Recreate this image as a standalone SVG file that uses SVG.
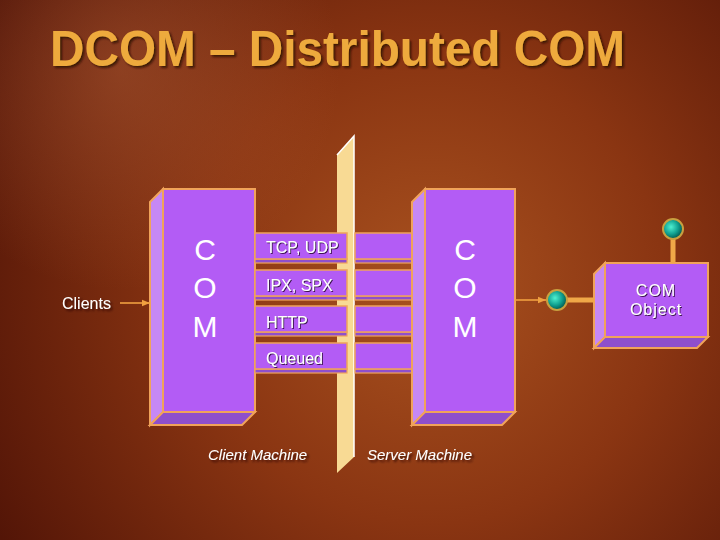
<svg xmlns="http://www.w3.org/2000/svg" width="720" height="540" viewBox="0 0 720 540">
<defs>
<radialGradient id="bg" cx="430" cy="290" r="520" gradientUnits="userSpaceOnUse">
<stop offset="0" stop-color="#a9521f"/>
<stop offset="0.45" stop-color="#8a3512"/>
<stop offset="1" stop-color="#4e1206"/>
</radialGradient>
<radialGradient id="glow" cx="120" cy="70" r="220" gradientUnits="userSpaceOnUse">
<stop offset="0" stop-color="#c06a40" stop-opacity="0.4"/>
<stop offset="1" stop-color="#c06a40" stop-opacity="0"/>
</radialGradient>
<radialGradient id="ball" cx="0.4" cy="0.4" r="0.6">
<stop offset="0" stop-color="#4ff0d0"/>
<stop offset="0.6" stop-color="#10a090"/>
<stop offset="1" stop-color="#035a50"/>
</radialGradient>
<filter id="sh" x="-10%" y="-20%" width="130%" height="150%">
<feDropShadow dx="2" dy="2" stdDeviation="1" flood-color="#2a0800" flood-opacity="0.8"/>
</filter>
<filter id="tsh" x="-10%" y="-30%" width="130%" height="160%">
<feDropShadow dx="1" dy="1" stdDeviation="0.6" flood-color="#301040" flood-opacity="0.9"/>
</filter>
<marker id="arr" viewBox="0 0 10 10" refX="10" refY="5" markerWidth="9" markerHeight="8" orient="auto" markerUnits="userSpaceOnUse">
<path d="M0,1 L10,5 L0,9 z" fill="#f0a040"/>
</marker>
<style>
.front{fill:#b35cf5;stroke:#f0a35a;stroke-width:2}
.side{fill:#c688f5;stroke:#f0a35a;stroke-width:2}
.bottom{fill:#8e4fcc;stroke:#f0a35a;stroke-width:2}
.bar{fill:#b35cf5;stroke:#f0a35a;stroke-width:1.5}
.barb{fill:#8e4fcc;stroke:#f0a35a;stroke-width:1.2}
.com{font-family:"Liberation Sans",Arial,sans-serif;font-size:30px;fill:#ffffff;text-anchor:middle}
.lbl{font-family:"Liberation Sans",Arial,sans-serif;font-size:16px;fill:#ffffff}
.mach{font-family:"Liberation Sans",Arial,sans-serif;font-size:15px;font-style:italic;fill:#ffffff}
.thin{stroke:#f0a040;stroke-width:1.6;fill:none}
.thick{stroke:#f0a848;stroke-width:5;fill:none}
.dot{fill:url(#ball);stroke:#c8a040;stroke-width:2}
</style>
</defs>
<rect width="720" height="540" fill="url(#bg)"/>
<rect width="720" height="540" fill="url(#glow)"/>
<text x="50" y="66" font-family="Liberation Sans,Arial,sans-serif" font-weight="bold" font-size="50" fill="#eeaa3c" textLength="575" lengthAdjust="spacingAndGlyphs" filter="url(#sh)">DCOM – Distributed COM</text>

<g id="divider">
<polygon points="337,155 354,136 354,457 337,473" fill="#f8da94"/>
<polyline points="337,155 354,136 354,457" fill="none" stroke="#ffffff" stroke-width="1.5"/>
</g>

<g id="client-com">
<polygon class="side" points="150,202 163,189 163,412 150,425"/>
<polygon class="bottom" points="150,425 163,412 255,412 242,425"/>
<rect class="front" x="163" y="189" width="92" height="223"/>
<text class="com" x="205" y="260">C</text>
<text class="com" x="205" y="298">O</text>
<text class="com" x="205" y="337">M</text>
</g>

<g id="protocols">
<rect class="barb" x="255" y="259" width="92" height="4"/>
<rect class="bar" x="255" y="233" width="92" height="26"/>
<rect class="barb" x="355" y="259" width="57" height="4"/>
<rect class="bar" x="355" y="233" width="57" height="26"/>
<rect class="barb" x="255" y="296" width="92" height="4"/>
<rect class="bar" x="255" y="270" width="92" height="26"/>
<rect class="barb" x="355" y="296" width="57" height="4"/>
<rect class="bar" x="355" y="270" width="57" height="26"/>
<rect class="barb" x="255" y="332" width="92" height="4"/>
<rect class="bar" x="255" y="306" width="92" height="26"/>
<rect class="barb" x="355" y="332" width="57" height="4"/>
<rect class="bar" x="355" y="306" width="57" height="26"/>
<rect class="barb" x="255" y="369" width="92" height="4"/>
<rect class="bar" x="255" y="343" width="92" height="26"/>
<rect class="barb" x="355" y="369" width="57" height="4"/>
<rect class="bar" x="355" y="343" width="57" height="26"/>
<text class="lbl" x="266" y="253" filter="url(#tsh)">TCP, UDP</text>
<text class="lbl" x="266" y="291" filter="url(#tsh)">IPX, SPX</text>
<text class="lbl" x="266" y="328" filter="url(#tsh)">HTTP</text>
<text class="lbl" x="266" y="364" filter="url(#tsh)">Queued</text>
</g>

<g id="server-com">
<polygon class="side" points="412,202 425,189 425,412 412,425"/>
<polygon class="bottom" points="412,425 425,412 515,412 502,425"/>
<rect class="front" x="425" y="189" width="90" height="223"/>
<text class="com" x="465" y="260">C</text>
<text class="com" x="465" y="298">O</text>
<text class="com" x="465" y="337">M</text>
</g>

<g id="com-object">
<polygon class="side" points="594,274 605,263 605,337 594,348"/>
<polygon class="bottom" points="594,348 605,337 708,337 697,348"/>
<rect class="front" x="605" y="263" width="103" height="74"/>
<text class="lbl" x="656" y="296" font-size="15" text-anchor="middle" letter-spacing="1" filter="url(#tsh)">COM</text>
<text class="lbl" x="656" y="315" font-size="15" text-anchor="middle" letter-spacing="1" filter="url(#tsh)">Object</text>
</g>

<g id="clients">
<text class="lbl" x="62" y="309" font-size="17" filter="url(#sh)">Clients</text>
</g>

<g id="machines">
<text class="mach" x="208" y="460" filter="url(#sh)">Client Machine</text>
<text class="mach" x="367" y="460" filter="url(#sh)">Server Machine</text>
</g>

<g id="connectors">
<line class="thin" x1="120" y1="303" x2="150" y2="303" marker-end="url(#arr)"/>
<line class="thin" x1="515" y1="300" x2="546" y2="300" marker-end="url(#arr)"/>
<line class="thick" x1="566" y1="300" x2="594" y2="300"/>
<line class="thick" x1="673" y1="238" x2="673" y2="263"/>
<circle class="dot" cx="557" cy="300" r="10"/>
<circle class="dot" cx="673" cy="229" r="10"/>
</g>
</svg>
